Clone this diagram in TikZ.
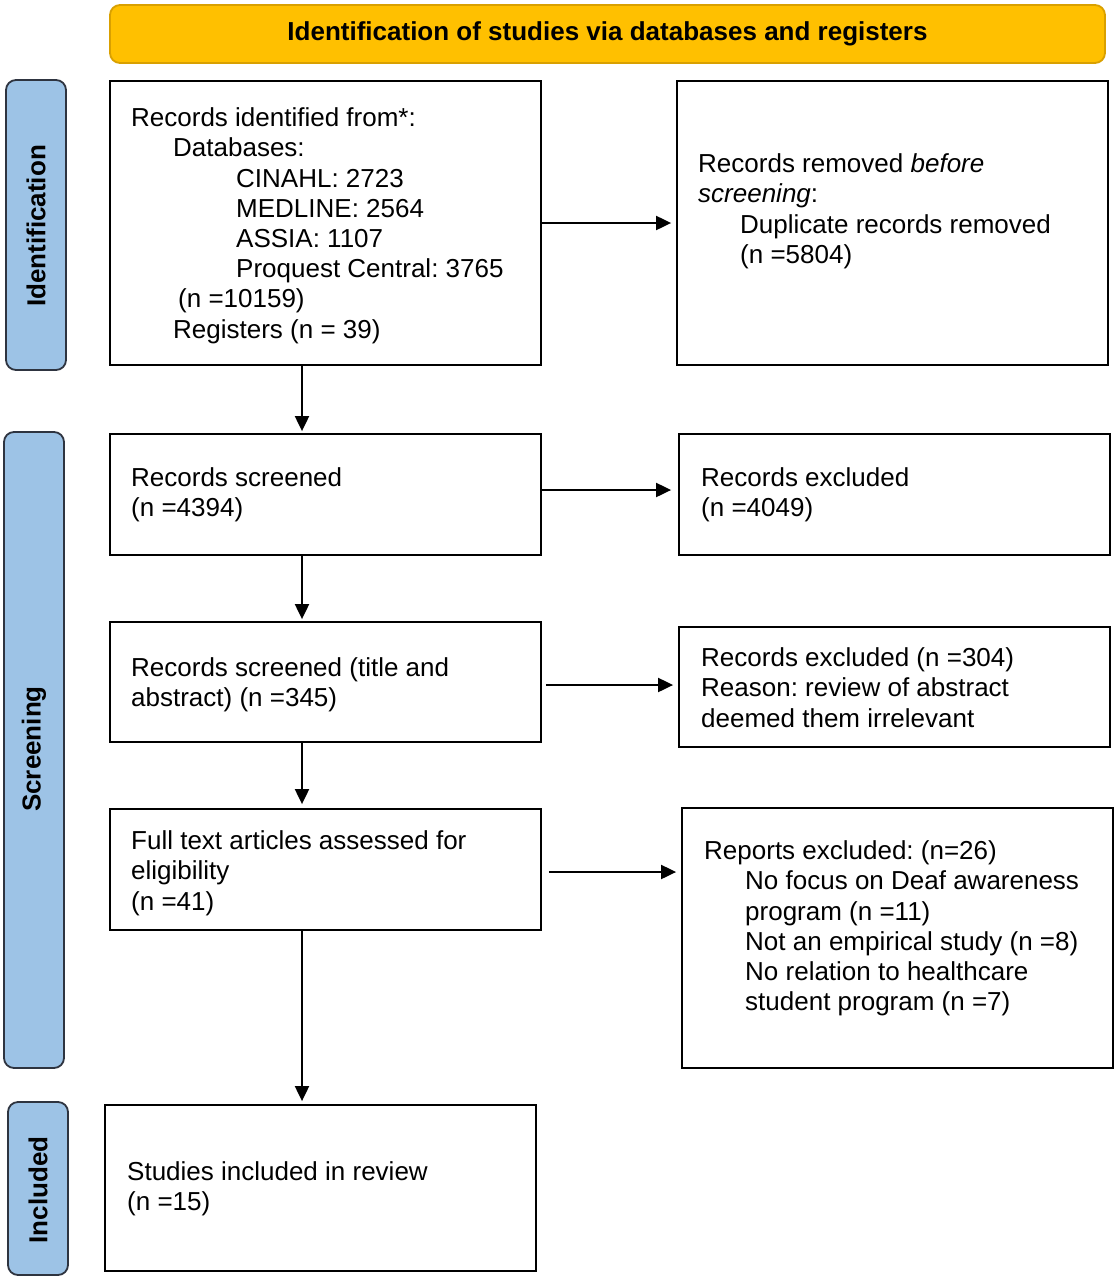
\documentclass[tikz,border=0pt]{standalone}
\usepackage{fontspec}
\setmainfont{Liberation Sans}
\usetikzlibrary{arrows.meta}
\definecolor{hdrfill}{HTML}{FFC000}
\definecolor{hdrdraw}{HTML}{D9A000}
\definecolor{sidefill}{HTML}{9DC3E6}
\definecolor{sidedraw}{HTML}{2E3440}
\frenchspacing
\begin{document}
\begin{tikzpicture}[x=1pt,y=-1pt,
  box/.style={draw=black, line width=1.8pt, fill=white, minimum width=431pt, inner sep=0pt},
  hdr/.style={draw=hdrdraw, line width=1.8pt, fill=hdrfill, rounded corners=10pt, minimum width=995pt, minimum height=58pt, inner sep=0pt, font=\fontsize{26}{30}\selectfont\bfseries},
  side/.style={draw=sidedraw, line width=1.8pt, fill=sidefill, rounded corners=10pt, minimum width=60pt, inner sep=0pt},
  sidelbl/.style={rotate=90, inner sep=0pt, font=\fontsize{26}{30}\selectfont\bfseries},
  txt/.style={anchor=north west, inner sep=0pt, align=left, font=\fontsize{26}{30.2}\selectfont},
  arr/.style={line width=2pt, -{Triangle[length=15pt,width=14pt]}}
]
\useasboundingbox (0,0) rectangle (1116,1280);

% header
\node[hdr] (hdr) at (607.5,34) {Identification of studies via databases and registers};

% side bars
\node[side, minimum height=290pt] (sid) at (36,225) {};
\node[sidelbl] (sidl) at (36,226) {Identification};
\node[side, minimum height=636pt] (sscr) at (34,750) {};
\node[sidelbl] (sscrl) at (34,749) {Screening};
\node[side, minimum height=173pt] (sinc) at (38,1188.5) {};
\node[sidelbl] (sincl) at (38,1190) {Included};

% boxes
\node[box, minimum height=284pt] (b1) at (325.5,223) {};
\node[box, minimum height=284pt] (r1) at (892.5,223) {};
\node[box, minimum height=121pt] (b2) at (325.5,494.5) {};
\node[box, minimum height=121pt] (r2) at (894.5,494.5) {};
\node[box, minimum height=120pt] (b3) at (325.5,682) {};
\node[box, minimum height=120pt] (r3) at (894.5,687) {};
\node[box, minimum height=121pt] (b4) at (325.5,869.5) {};
\node[box, minimum height=260pt] (r4) at (897.5,938) {};
\node[box, minimum height=166pt] (b5) at (320.5,1188) {};

% texts
\node[txt] (t1) at (131,106.5) {\rule{0pt}{20pt}Records identified from*:\\
\hspace*{42pt}Databases:\\
\hspace*{105pt}CINAHL: 2723\\
\hspace*{105pt}MEDLINE: 2564\\
\hspace*{105pt}ASSIA: 1107\\
\hspace*{105pt}Proquest Central: 3765\\
\hspace*{47pt}(n =10159)\\
\hspace*{42pt}Registers (n = 39)};
\node[txt] (tr1) at (698,152.5) {\rule{0pt}{20pt}Records removed \emph{before}\\
\emph{screening}:\\
\hspace*{42pt}Duplicate records removed\\
\hspace*{42pt}(n =5804)};
\node[txt] (t2) at (131,466.5) {\rule{0pt}{20pt}Records screened\\(n =4394)};
\node[txt] (tr2) at (701,466.5) {\rule{0pt}{20pt}Records excluded\\(n =4049)};
\node[txt] (t3) at (131,656.5) {\rule{0pt}{20pt}Records screened (title and\\abstract) (n =345)};
\node[txt] (tr3) at (701,646.5) {\rule{0pt}{20pt}Records excluded (n =304)\\Reason: review of abstract\\deemed them irrelevant};
\node[txt] (t4) at (131,829.5) {\rule{0pt}{20pt}Full text articles assessed for\\eligibility\\(n =41)};
\node[txt] (tr4) at (704,839.5) {\rule{0pt}{20pt}Reports excluded: (n=26)\\
\hspace*{41pt}No focus on Deaf awareness\\
\hspace*{41pt}program (n =11)\\
\hspace*{41pt}Not an empirical study (n =8)\\
\hspace*{41pt}No relation to healthcare\\
\hspace*{41pt}student program (n =7)};
\node[txt] (t5) at (127,1160.5) {\rule{0pt}{20pt}Studies included in review\\(n =15)};

% connectors
\coordinate (cx) at (302,0);
\coordinate (y2) at (0,490);
\coordinate (y3) at (0,685);
\coordinate (y4) at (0,872);
\draw[arr, shorten >=2pt] (b1.south -| cx) -- (b2.north -| cx);
\draw[arr, shorten >=2pt] (b2.south -| cx) -- (b3.north -| cx);
\draw[arr, shorten >=4pt] (b3.south -| cx) -- (b4.north -| cx);
\draw[arr, shorten >=3pt] (b4.south -| cx) -- (b5.north -| cx);
\draw[arr, shorten >=5pt] (b1.east) -- (r1.west);
\draw[arr, shorten >=7pt] (b2.east |- y2) -- (r2.west |- y2);
\draw[arr, shorten <=4pt, shorten >=5pt] (b3.east |- y3) -- (r3.west |- y3);
\draw[arr, shorten <=7pt, shorten >=5pt] (b4.east |- y4) -- (r4.west |- y4);
\end{tikzpicture}
\end{document}
